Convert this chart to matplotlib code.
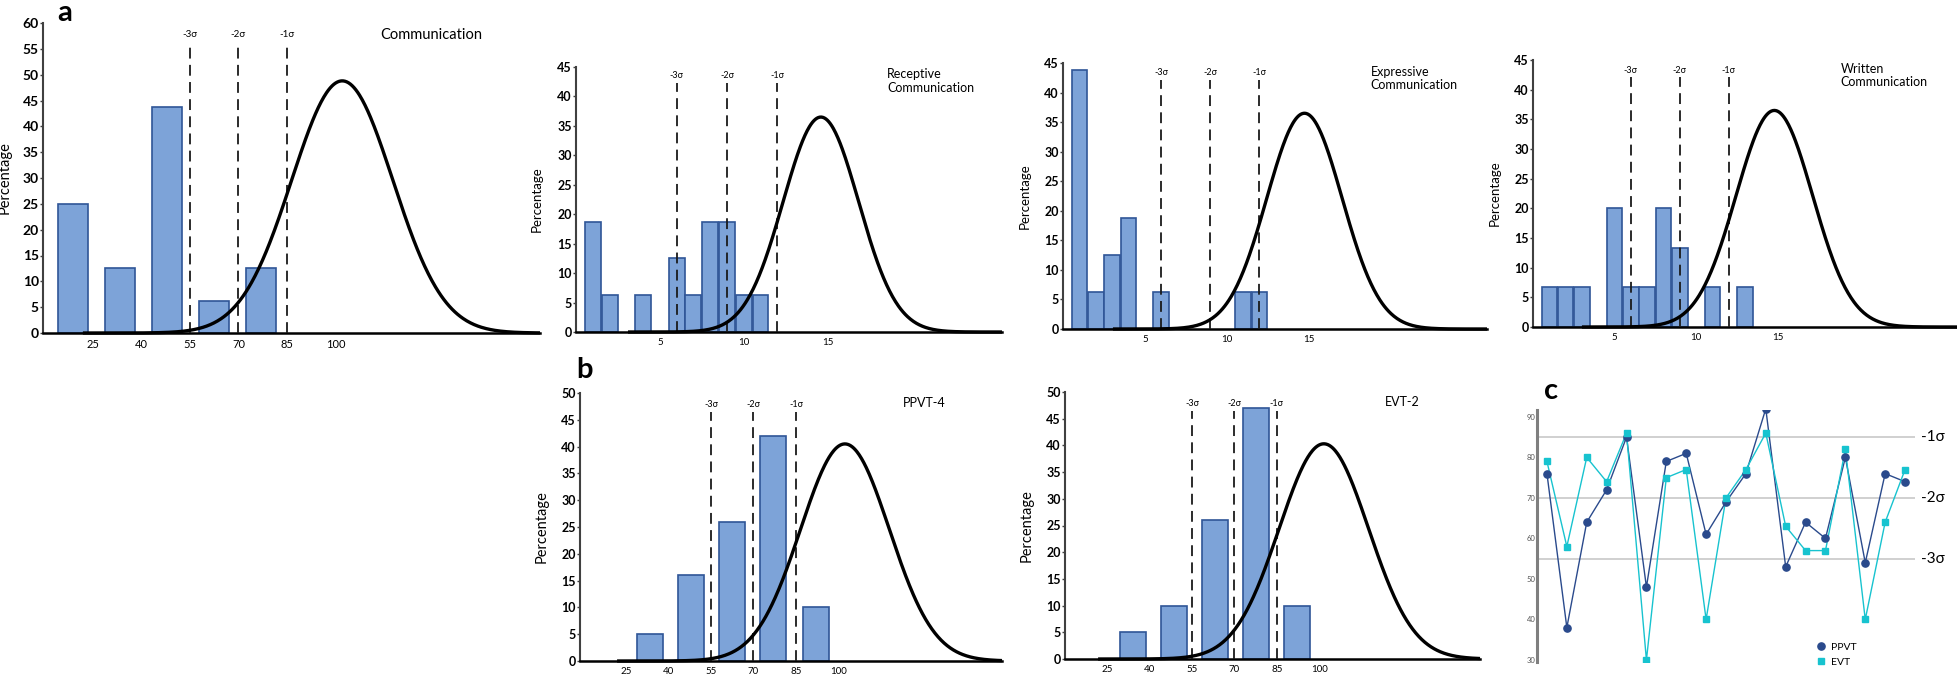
import numpy as np
import matplotlib
matplotlib.use("Agg")
import matplotlib.pyplot as plt

plt.rcParams['font.family'] = ['Lato', 'DejaVu Sans']

W, H = 1958, 676

# ---------------- data ----------------
# Panel a – Vineland Communication (standard scores, bins of 15)
comm_x = [19, 33.5, 48, 62.5, 77]
comm_pct = [25.0, 12.5, 43.75, 6.25, 12.5]

# Panel a – subdomains (v-scale scores)
recep_x = [1, 2, 4, 6, 7, 8, 9, 10, 11]
recep_pct = [18.75, 6.25, 6.25, 12.5, 6.25, 18.75, 18.75, 6.25, 6.25]

expr_x = [1, 2, 3, 4, 6, 11, 12]
expr_pct = [43.75, 6.25, 12.5, 18.75, 6.25, 6.25, 6.25]

writ_x = [1, 2, 3, 5, 6, 7, 8, 9, 11, 13]
writ_pct = [6.67, 6.67, 6.67, 20.0, 6.67, 6.67, 20.0, 13.33, 6.67, 6.67]

# Panel b – PPVT-4 and EVT-2 (standard scores, bins of 15)
ppvt_x = [33.5, 48, 62.5, 77, 92]
ppvt_pct = [5, 16, 26, 42, 10]
evt_x = [34, 48.5, 63, 77.5, 92]
evt_pct = [5, 10, 26, 47, 10]

std_ticks = [25, 40, 55, 70, 85, 100]
std_sigma = [55, 70, 85]
sub_ticks = [5, 10, 15]
sub_sigma = [6, 9, 12]
sigma_labels = ['-3σ', '-2σ', '-1σ']

# Panel c – individual scores
participants = list(range(1, 20))
ppvt_scores = [76, 38, 64, 72, 85, 48, 79, 81, 61, 69, 76, 92, 53, 64, 60, 80, 54, 76, 74]
evt_scores = [79, 58, 80, 74, 86, 30, 75, 77, 40, 70, 77, 86, 63, 57, 57, 82, 40, 64, 77]
c_ref_lines = [85, 70, 55]
c_ref_labels = ['-1σ', '-2σ', '-3σ']
c_yticks = [30, 40, 50, 60, 70, 80, 90]

# ---------------- style ----------------
BAR_FACE = '#7DA3D8'
BAR_EDGE = '#2F5597'
NAVY = '#2A4A8C'
CYAN = '#17C3CF'


def rect(l, r, t, b):
    return [l / W, 1 - b / H, (r - l) / W, (b - t) / H]


fig = plt.figure(figsize=(W / 100, H / 100), dpi=100)


def hist_panel(r, xlim, ymax, xs, pct, width, curve, sigma_x, sig_top, sig_lab,
               xticks, title, tpos, tfs, ytfs, xtfs, ylfs, ylab_x, sfs):
    ax = fig.add_axes(rect(*r))
    ax.bar(xs, pct, width=width, color=BAR_FACE, edgecolor=BAR_EDGE,
           linewidth=1.2, zorder=2)
    mean, sd, peak, start = curve
    xc = np.linspace(start, xlim[1], 500)
    ax.plot(xc, peak * np.exp(-0.5 * ((xc - mean) / sd) ** 2), color='black',
            lw=2.4, zorder=4, clip_on=False, solid_capstyle='butt')
    ax.vlines(sigma_x, 0, sig_top, colors='#1a1a1a', lw=1.3,
              linestyles=(0, (6, 3.5)), zorder=3)
    for sx, lab in zip(sigma_x, sigma_labels):
        ax.text(sx, sig_lab, lab, ha='center', va='center', fontsize=sfs)
    ax.set_xlim(*xlim)
    ax.set_ylim(0, ymax)
    ax.set_yticks(np.arange(0, ymax + 1, 5))
    ax.set_xticks(xticks)
    ax.tick_params(axis='x', length=0, pad=4, labelsize=xtfs)
    ax.tick_params(axis='y', length=2, pad=1, labelsize=ytfs, width=1,
                   color='#404040')
    for lb in ax.get_yticklabels():
        lb.set_fontweight('bold')
    for s in ('top', 'right'):
        ax.spines[s].set_visible(False)
    ax.spines['left'].set_color('#404040')
    ax.spines['left'].set_linewidth(1.5)
    ax.spines['bottom'].set_color('black')
    ax.spines['bottom'].set_linewidth(1.8)
    ax.set_ylabel('Percentage', fontsize=ylfs)
    ax.yaxis.set_label_coords(ylab_x, 0.5)
    ax.text(tpos[0], tpos[1], title, transform=ax.transAxes, ha='left',
            va='top', fontsize=tfs, linespacing=1.15)
    return ax


# Panel a
hist_panel((43, 540, 23, 333), (9.7, 163), 60, comm_x, comm_pct, 9.25,
           (102, 15.6, 48.8, 22), std_sigma, 56.3, 57.7, std_ticks,
           'Communication', (0.678, 0.985), 10.5, 10, 8, 10.5, -0.064, 7)
hist_panel((576, 1002, 67, 332), (0, 25.4), 45, recep_x, recep_pct, 0.95,
           (14.6, 2.25, 36.5, 3.1), sub_sigma, 42.3, 43.5, sub_ticks,
           'Receptive\nCommunication', (0.73, 0.995), 9, 9, 7, 9.5, -0.077, 6.5)
hist_panel((1063, 1487, 63, 329), (0, 25.9), 45, expr_x, expr_pct, 0.95,
           (14.75, 2.3, 36.5, 3.05), sub_sigma, 42.2, 43.4, sub_ticks,
           'Expressive\nCommunication', (0.726, 0.99), 9, 9, 7, 9.5, -0.077, 6.5)
hist_panel((1533, 1957, 60, 327), (0, 26), 45, writ_x, writ_pct, 0.95,
           (14.8, 2.35, 36.5, 3.0), sub_sigma, 42.2, 43.3, sub_ticks,
           'Written\nCommunication', (0.726, 0.99), 9, 9, 7, 9.5, -0.077, 6.5)

# Panel b
hist_panel((580, 1002, 393, 661), (8.7, 157.8), 50, ppvt_x, ppvt_pct, 9.2,
           (102.3, 15.7, 40.5, 21.8), std_sigma, 46.5, 47.9, std_ticks,
           'PPVT-4', (0.765, 0.985), 9, 9, 7, 10.5, -0.075, 6.5)
hist_panel((1065, 1480, 392, 659), (10.1, 156.8), 50, evt_x, evt_pct, 9.2,
           (101.6, 15.8, 40.3, 21.8), std_sigma, 46.4, 47.9, std_ticks,
           'EVT-2', (0.771, 0.985), 9, 9, 7, 10.5, -0.075, 6.5)

# Panel c
axc = fig.add_axes(rect(1537, 1915, 410, 662))
for yv in c_ref_lines:
    axc.axhline(yv, color='#C4C4C4', lw=1.1, zorder=1)
for yv, lab in zip(c_ref_lines, c_ref_labels):
    axc.text(1.015, yv, lab, transform=axc.get_yaxis_transform(), ha='left',
             va='center', fontsize=11)
axc.plot(participants, ppvt_scores, color=NAVY, lw=1.0, zorder=2)
axc.plot(participants, evt_scores, color=CYAN, lw=1.0, zorder=2)
axc.plot(participants, ppvt_scores, 'o', color=NAVY, ms=5.2, zorder=3,
         label='PPVT')
axc.plot(participants, evt_scores, 's', color=CYAN, ms=4.6, zorder=4,
         label='EVT')
axc.set_xlim(0.5, 19.5)
axc.set_ylim(29.5, 91.7)
axc.set_yticks(c_yticks)
axc.set_xticks([])
axc.tick_params(axis='y', length=0, pad=1, labelsize=5.5, labelcolor='#555555')
for s in ('top', 'right', 'bottom'):
    axc.spines[s].set_visible(False)
axc.spines['left'].set_color('#7F7F7F')
axc.spines['left'].set_linewidth(2.2)
axc.legend(loc='lower left', bbox_to_anchor=(0.725, -0.035), frameon=False,
           fontsize=7.5, handletextpad=0.3, labelspacing=0.55, handlelength=1.2,
           borderaxespad=0)

# Panel letters
fig.text(65 / W, 1 - 13 / H, 'a', fontsize=21, fontweight='bold', ha='center',
         va='center')
fig.text(584 / W, 1 - 370 / H, 'b', fontsize=21, fontweight='bold', ha='center',
         va='center')
fig.text(1551 / W, 1 - 391 / H, 'c', fontsize=21, fontweight='bold', ha='center',
         va='center')

fig.savefig('out.png', dpi=100)
